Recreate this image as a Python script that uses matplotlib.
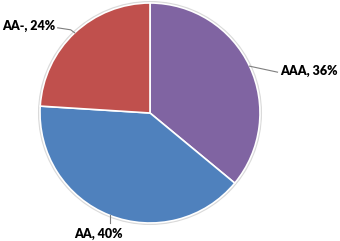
import numpy as np
import matplotlib
matplotlib.use("Agg")
import matplotlib.pyplot as plt
from matplotlib.patches import Circle

labels = ["AAA", "AA", "AA-"]
shares = [36, 40, 24]
colors = ["#8064A2", "#4F81BD", "#C0504D"]

plt.rcParams['font.family'] = ['Lato', 'DejaVu Sans']

fig = plt.figure(figsize=(3.4, 2.41), dpi=100)
ax = fig.add_axes([0, 0, 1, 1])
R = 110.0  # pie radius in pixels

# faint shadow ring
ax.add_patch(Circle((0, 0), 1.012, color="#dadada", zorder=0))
wedges, _ = ax.pie(shares, colors=colors, startangle=90, counterclock=False,
                   radius=1.0, wedgeprops=dict(edgecolor="white", linewidth=1.2))

ax.set_xlim(-150 / R, 190 / R)
ax.set_ylim(-128 / R, 113 / R)
ax.set_aspect("auto")
ax.axis("off")

# label offsets (pixels): line end, text anchor
layout = {
    "AAA": dict(line=[(0, 0), (28, -6)], text=(31, -5), ha="left"),
    "AA": dict(line=[(0, 0), (0, -8)], text=(-11, -19), ha="center"),
    "AA-": dict(line=[(0, 0), (-4, 3), (-17, 5)], text=(-19, 7), ha="right"),
}

for w, lab, val in zip(wedges, labels, shares):
    mid = np.deg2rad((w.theta1 + w.theta2) / 2)
    x0, y0 = np.cos(mid), np.sin(mid)
    cfg = layout[lab]
    xs = [x0 + dx / R for dx, dy in cfg["line"]]
    ys = [y0 + dy / R for dx, dy in cfg["line"]]
    ax.plot(xs, ys, color="#7f7f7f", lw=0.8)
    tx, ty = cfg["text"]
    ax.text(x0 + tx / R, y0 + ty / R, f"{lab}, {val}%", ha=cfg["ha"], va="center",
            fontsize=9, fontweight="heavy", color="black")

fig.savefig("out.png", dpi=100)
